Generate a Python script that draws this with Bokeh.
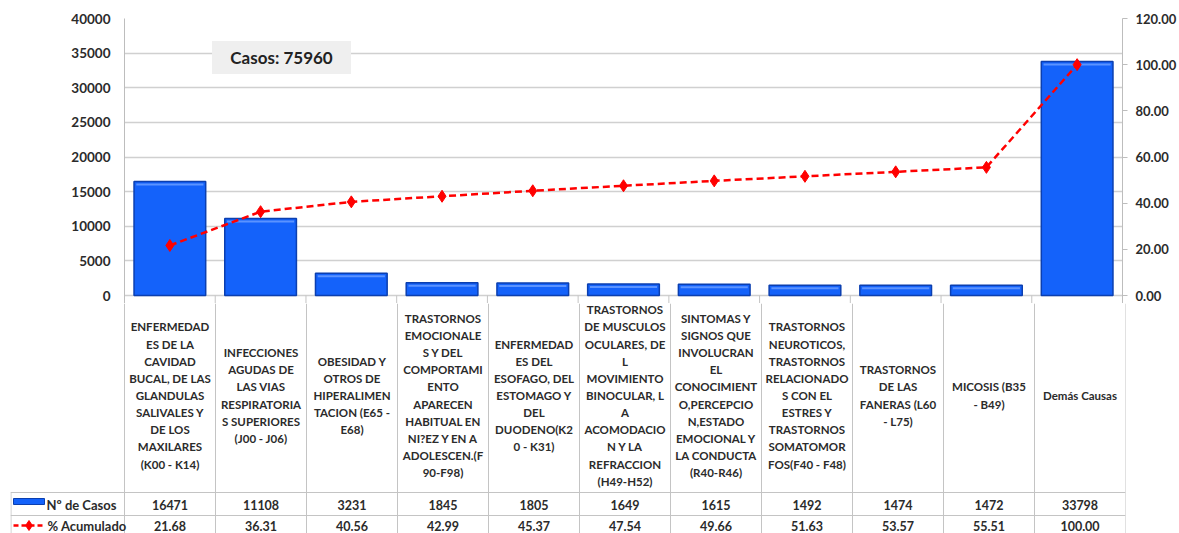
from bokeh.plotting import figure
from bokeh.models import Range1d, LinearAxis, FixedTicker, NumeralTickFormatter
from bokeh.core.properties import value
from bokeh.embed import file_html
from bokeh.resources import INLINE

categories = [
    "ENFERMEDAD\nES DE LA\nCAVIDAD\nBUCAL, DE LAS\nGLANDULAS\nSALIVALES Y\nDE LOS\nMAXILARES\n(K00 - K14)",
    "INFECCIONES\nAGUDAS DE\nLAS VIAS\nRESPIRATORIA\nS SUPERIORES\n(J00 - J06)",
    "OBESIDAD Y\nOTROS DE\nHIPERALIMEN\nTACION (E65 -\nE68)",
    "TRASTORNOS\nEMOCIONALE\nS Y DEL\nCOMPORTAMI\nENTO\nAPARECEN\nHABITUAL EN\nNI?EZ Y EN A\nADOLESCEN.(F\n90-F98)",
    "ENFERMEDAD\nES DEL\nESOFAGO, DEL\nESTOMAGO Y\nDEL\nDUODENO(K2\n0 - K31)",
    "TRASTORNOS\nDE MUSCULOS\nOCULARES, DE\nL\nMOVIMIENTO\nBINOCULAR, L\nA\nACOMODACIO\nN Y LA\nREFRACCION\n(H49-H52)",
    "SINTOMAS Y\nSIGNOS QUE\nINVOLUCRAN\nEL\nCONOCIMIENT\nO,PERCEPCIO\nN,ESTADO\nEMOCIONAL Y\nLA CONDUCTA\n(R40-R46)",
    "TRASTORNOS\nNEUROTICOS,\nTRASTORNOS\nRELACIONADO\nS CON EL\nESTRES Y\nTRASTORNOS\nSOMATOMOR\nFOS(F40 - F48)",
    "TRASTORNOS\nDE LAS\nFANERAS (L60\n- L75)",
    "MICOSIS (B35\n- B49)",
    "Demás Causas",
]
casos = [16471, 11108, 3231, 1845, 1805, 1649, 1615, 1492, 1474, 1472, 33798]
acumulado = [21.68, 36.31, 40.56, 42.99, 45.37, 47.54, 49.66, 51.63, 53.57, 55.51, 100.00]
left_ticks = [0, 5000, 10000, 15000, 20000, 25000, 30000, 35000, 40000]
right_ticks = [0, 20, 40, 60, 80, 100, 120]
total_label = "Casos: 75960"
row_labels = ["Nº de Casos", "% Acumulado"]

idx = list(range(len(casos)))

FONT = "Lato"
TXT = "#2b2b2b"
GRIDC = "#d0d0d0"
TABC = "#c4c4c4"
BAR = "#1462fa"
BAR_EDGE = "#0b3fb0"

# layout helpers (page pixels, origin = figure origin)
W = 1179
X0, DX = 124, 91.0          # frame left, px per category
Y_TOP, Y_ZERO, EXT = 18, 295, 8
H_PLOT = Y_ZERO - Y_TOP


def px2x(px):
    return (px - X0) / DX - 0.5


def py2count(py):
    return (Y_ZERO - py) / H_PLOT * 40000


top = figure(width=W, height=Y_ZERO + EXT,
             x_range=Range1d(-0.5, 10.5),
             y_range=Range1d(-EXT / H_PLOT * 40000, 40000),
             min_border_left=X0, min_border_right=W - X0 - 1001,
             min_border_top=Y_TOP, min_border_bottom=0,
             output_backend="svg", toolbar_location=None)
top.extra_y_ranges = {"pct": Range1d(-EXT / H_PLOT * 120, 120)}
top.outline_line_color = None
top.xaxis.visible = False
top.xgrid.visible = False
top.ygrid.ticker = FixedTicker(ticks=left_ticks)
top.ygrid.grid_line_color = GRIDC
top.ygrid.grid_line_width = 1.3

ya = top.yaxis[0]
ya.ticker = FixedTicker(ticks=left_ticks)
ya.formatter = NumeralTickFormatter(format="0")
ya.major_tick_out = 0
ya.major_tick_in = 0
ya.minor_tick_line_color = None
ya.axis_line_color = "#bdbdbd"
ya.major_label_standoff = 14
ya.major_label_text_font = FONT
ya.major_label_text_font_style = "bold"
ya.major_label_text_font_size = "13.5px"
ya.major_label_text_color = TXT

ra = LinearAxis(y_range_name="pct", ticker=FixedTicker(ticks=right_ticks),
                formatter=NumeralTickFormatter(format="0.00"))
ra.major_tick_out = 5
ra.major_tick_in = 0
ra.minor_tick_line_color = None
ra.axis_line_color = "#bdbdbd"
ra.major_tick_line_color = "#bdbdbd"
ra.major_label_standoff = 8
ra.major_label_text_font = FONT
ra.major_label_text_font_style = "bold"
ra.major_label_text_font_size = "13px"
ra.major_label_text_color = TXT
top.add_layout(ra, "right")

# table column borders extending into the chart bottom
bounds = [i + 0.5 for i in range(len(casos) - 1)]
top.segment(x0=bounds, y0=[-EXT / H_PLOT * 40000] * len(bounds), x1=bounds,
            y1=[0] * len(bounds), line_color=TABC, line_width=1)

top.vbar(x=idx, top=casos, width=0.79, bottom=0,
         fill_color=BAR, line_color=BAR_EDGE, line_width=1.5)
# bevel highlight
hl = [c - 3 / H_PLOT * 40000 for c in casos]
top.segment(x0=[i - 0.37 for i in idx], y0=hl, x1=[i + 0.37 for i in idx], y1=hl,
            line_color="#5b93ff", line_width=2)

top.line(idx, acumulado, y_range_name="pct", line_color="#ff0000",
         line_width=2.5, line_dash="7 4")
top.scatter(idx, acumulado, y_range_name="pct", marker="diamond", size=12,
            fill_color="#ff0000", line_color="#ff0000")

# Casos box
bx, by = px2x(281.5), py2count(57)
top.rect(x=[bx], y=[by], width=139, height=33, width_units="screen",
         height_units="screen", fill_color="#efefef", line_color=None)
top.text(x=[bx], y=[by], text=[total_label], text_font=value(FONT),
         text_font_style="bold", text_font_size="17px", text_color="#222222",
         text_align="center", text_baseline="middle")

# ---------- data table ----------
Y_T0, Y_T1 = Y_ZERO + EXT, 533
TL = 10
bottom = figure(width=W, height=Y_T1 - Y_T0,
                x_range=Range1d(px2x(TL), 10.5),
                y_range=Range1d(Y_T1, Y_T0),
                min_border_left=TL, min_border_right=W - X0 - 1001,
                min_border_top=0, min_border_bottom=0,
                output_backend="svg", toolbar_location=None)
bottom.outline_line_color = None
bottom.axis.visible = False
bottom.grid.visible = False

ROW1, ROW2 = 492, 515
vb = [i - 0.5 for i in range(len(casos) + 1)]
bottom.segment(x0=vb, y0=[Y_T0] * len(vb), x1=vb, y1=[Y_T1] * len(vb),
               line_color=TABC, line_width=1)
bottom.segment(x0=[px2x(TL) + 0.005], y0=[ROW1], x1=[px2x(TL) + 0.005], y1=[Y_T1],
               line_color=TABC, line_width=1)
bottom.segment(x0=[px2x(TL)] * 2, y0=[ROW1, ROW2], x1=[10.5] * 2, y1=[ROW1, ROW2],
               line_color=TABC, line_width=1)

bottom.text(x=idx, y=[395] * len(idx), text=categories,
            text_font=value(FONT), text_font_style="bold", text_font_size="11.5px",
            text_color=TXT, text_align="center", text_baseline="middle",
            text_line_height=1.32)

bottom.text(x=idx, y=[(ROW1 + ROW2) / 2 + 1] * len(idx), text=[str(v) for v in casos],
            text_font=value(FONT), text_font_style="bold", text_font_size="12.5px",
            text_color=TXT, text_align="center", text_baseline="middle")
bottom.text(x=idx, y=[(ROW2 + Y_T1) / 2 + 1] * len(idx),
            text=["%.2f" % v for v in acumulado],
            text_font=value(FONT), text_font_style="bold", text_font_size="12.5px",
            text_color=TXT, text_align="center", text_baseline="middle")

# legend keys
bottom.quad(left=[px2x(13)], right=[px2x(44)], top=[498], bottom=[504],
            fill_color=BAR, line_color=BAR_EDGE, line_width=1)
bottom.line([px2x(13), px2x(44)], [525, 525], line_color="#ff0000",
            line_width=2.5, line_dash="5 3")
bottom.scatter([px2x(28.5)], [525], marker="diamond", size=10,
               fill_color="#ff0000", line_color="#ff0000")
bottom.text(x=[px2x(46), px2x(47)], y=[(ROW1 + ROW2) / 2 + 1, (ROW2 + Y_T1) / 2 + 1],
            text=row_labels, text_font=value(FONT), text_font_style="bold",
            text_font_size="13px", text_color=TXT, text_align="left",
            text_baseline="middle")

open("out.html", "w").write(file_html([top, bottom], INLINE))
